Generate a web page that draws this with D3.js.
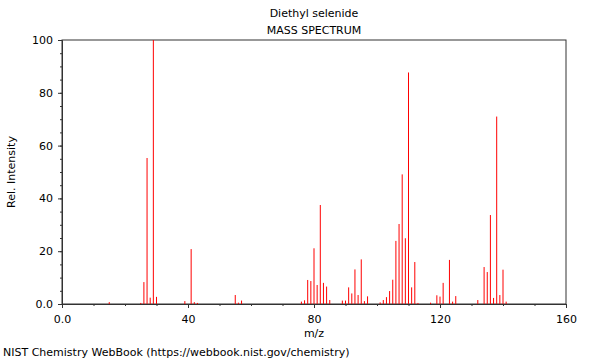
<!DOCTYPE html>
<html>
<head>
<meta charset="utf-8">
<script src="https://d3js.org/d3.v7.min.js"></script>
<style>
	body { margin: 0; background: #fff; }
	svg { display: block; font-family: 'DejaVu Sans', sans-serif; font-size: 11px; }
	.axis path, .axis line { stroke: #333; }
	.axis text { fill: #000; font-size: 11px; font-family: 'DejaVu Sans', sans-serif; }
</style>
</head>
<body>
<div id="chart"></div>
<script>
'use strict';

// Peak positions (m/z) and relative intensities.
var mzValues = [15, 25, 26, 27, 28, 29, 30, 39, 41, 42, 43,
	55, 56, 57,
	76, 77, 78, 79, 80, 81, 82, 83, 84, 85,
	89, 90, 91, 92, 93, 94, 95, 96, 97,
	101, 102, 103, 104, 105, 106, 107, 108, 109, 110, 111, 112, 113,
	117, 119, 120, 121, 123, 124, 125,
	132, 134, 135, 136, 137, 138, 139, 140, 141];
var intensities = [0.7, 0.4, 8.3, 55.3, 2.4, 100, 2.7, 1.1, 20.8, 0.7, 0.4,
	3.4, 0.5, 1.3,
	0.9, 1.4, 9.1, 8.7, 21.1, 7.2, 37.5, 8.0, 6.6, 1.5,
	1.3, 1.3, 6.3, 4.0, 13.1, 3.4, 16.9, 1.1, 2.9,
	0.6, 1.5, 2.6, 4.9, 9.2, 23.9, 30.3, 49.1, 24.9, 87.7, 6.3, 15.9, 0.4,
	0.5, 3.3, 2.8, 8.0, 16.7, 0.9, 3.0,
	1.5, 14.0, 12.1, 33.7, 2.3, 71.0, 3.4, 13.0, 0.9];

// Axis ticks.
var xMajorTicks = [0, 40, 80, 120, 160];
var xMinorTicks = d3.range(0, 161, 10);
var yMajorTicks = [0, 20, 40, 60, 80, 100];
var yMinorTicks = d3.range(0, 101, 5);

var titleText = 'Diethyl selenide';
var subtitleText = 'MASS SPECTRUM';
var xLabel = 'm/z';
var yLabel = 'Rel. Intensity';
var footerText = 'NIST Chemistry WebBook (https://webbook.nist.gov/chemistry)';

var peaks = mzValues.map(function(mz, i) {
	return {mz: mz, value: intensities[i]};
});

var svgWidth = 600;
var svgHeight = 360;
var margin = {top: 40, right: 34, bottom: 56, left: 62};
var width = svgWidth - margin.left - margin.right;
var height = svgHeight - margin.top - margin.bottom;

var svg = d3.select('#chart').append('svg')
	.attr('width', svgWidth)
	.attr('height', svgHeight);

var g = svg.append('g')
	.attr('transform', `translate(${margin.left}, ${margin.top})`);

var x = d3.scaleLinear().domain([0, 160]).range([0, width]);
var y = d3.scaleLinear().domain([0, 100]).range([height, 0]);

function fmt(d) {
	return d === 0 ? '0.0' : d;
}

// Minor ticks first, then the labelled major ticks on top.
g.append('g')
	.attr('class', 'axis')
	.call(d3.axisLeft(y).tickValues(yMinorTicks).tickSize(2).tickSizeOuter(0).tickFormat(''));
g.append('g')
	.attr('class', 'axis')
	.call(d3.axisLeft(y).tickValues(yMajorTicks).tickSize(4).tickSizeOuter(0).tickPadding(5).tickFormat(fmt));

g.append('g')
	.attr('class', 'axis')
	.attr('transform', `translate(0, ${height})`)
	.call(d3.axisBottom(x).tickValues(xMinorTicks).tickSize(2).tickSizeOuter(0).tickFormat(''));
g.append('g')
	.attr('class', 'axis')
	.attr('transform', `translate(0, ${height})`)
	.call(d3.axisBottom(x).tickValues(xMajorTicks).tickSize(4).tickSizeOuter(0).tickPadding(7).tickFormat(fmt));

// Frame round the plot.
g.append('rect')
	.attr('width', width)
	.attr('height', height)
	.attr('fill', 'none')
	.attr('stroke', '#333');

// Peaks as thin vertical sticks.
g.append('g')
	.selectAll('line')
	.data(peaks)
	.join('line')
	.attr('x1', function(d) { return x(d.mz); })
	.attr('x2', function(d) { return x(d.mz); })
	.attr('y1', y(0))
	.attr('y2', function(d) { return y(d.value); })
	.attr('stroke', '#ff0000')
	.attr('stroke-width', 1);

// Titles and labels.
var cx = margin.left + width / 2;
svg.append('text').attr('x', cx).attr('y', 17).attr('text-anchor', 'middle').text(titleText);
svg.append('text').attr('x', cx).attr('y', 34).attr('text-anchor', 'middle').text(subtitleText);
svg.append('text').attr('x', cx).attr('y', 337).attr('text-anchor', 'middle').text(xLabel);
svg.append('text')
	.attr('transform', `translate(15, ${margin.top + height / 2}) rotate(-90)`)
	.attr('text-anchor', 'middle')
	.text(yLabel);
svg.append('text').attr('x', 3).attr('y', 356).text(footerText);
</script>
</body>
</html>
